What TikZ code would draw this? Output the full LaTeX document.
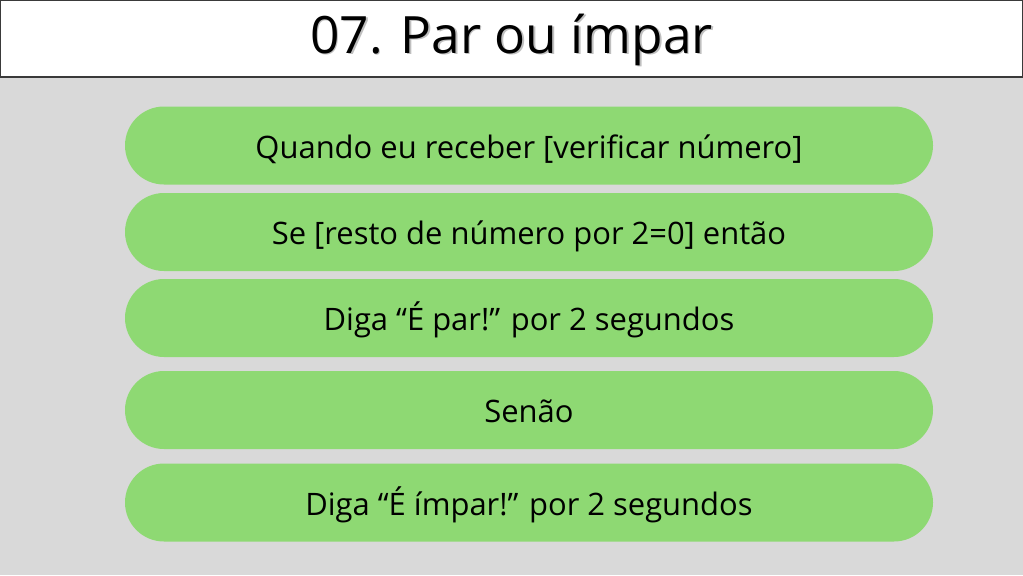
\documentclass[tikz,border=0pt]{standalone}
\usepackage{fontspec}
\setmainfont{Open Sans}
\definecolor{bg}{HTML}{D9D9D9}
\definecolor{pill}{HTML}{8ED973}
\definecolor{frame}{HTML}{3A3A3A}
\begin{document}
\begin{tikzpicture}[x=0.75pt,y=-0.75pt,
  pillbox/.style={fill=pill,draw=none,rounded corners=29.25pt,minimum width=606pt,minimum height=58.5pt,inner sep=0pt,text height=22.8pt,text depth=4pt,font=\fontsize{23.2}{28}\selectfont,text=black},
  titlebox/.style={fill=white,draw=frame,line width=1.5pt,minimum width=767.25pt,minimum height=57.75pt,inner sep=0pt}]
\useasboundingbox (0,0) rectangle (1023,575);
\fill[bg] (0,0) rectangle (1023,575);
\node[titlebox] (title) at (511.5,38.5) {};
\node[text=black!25,font=\fontsize{38.6}{44}\selectfont] (tshadow) at (513,41) {07. Par ou ímpar};
\node[text=black,font=\fontsize{38.6}{44}\selectfont] (ttext) at (511.5,39.5) {07. Par ou ímpar};
\node[pillbox] (p1) at (529,145.5) {Quando eu receber [verificar número]};
\node[pillbox] (p2) at (529,232) {Se [resto de número por 2=0] então};
\node[pillbox] (p3) at (529,318) {Diga “É par!” por 2 segundos};
\node[pillbox] (p4) at (529,410) {Senão};
\node[pillbox] (p5) at (529,502.5) {Diga “É ímpar!” por 2 segundos};
\end{tikzpicture}
\end{document}
